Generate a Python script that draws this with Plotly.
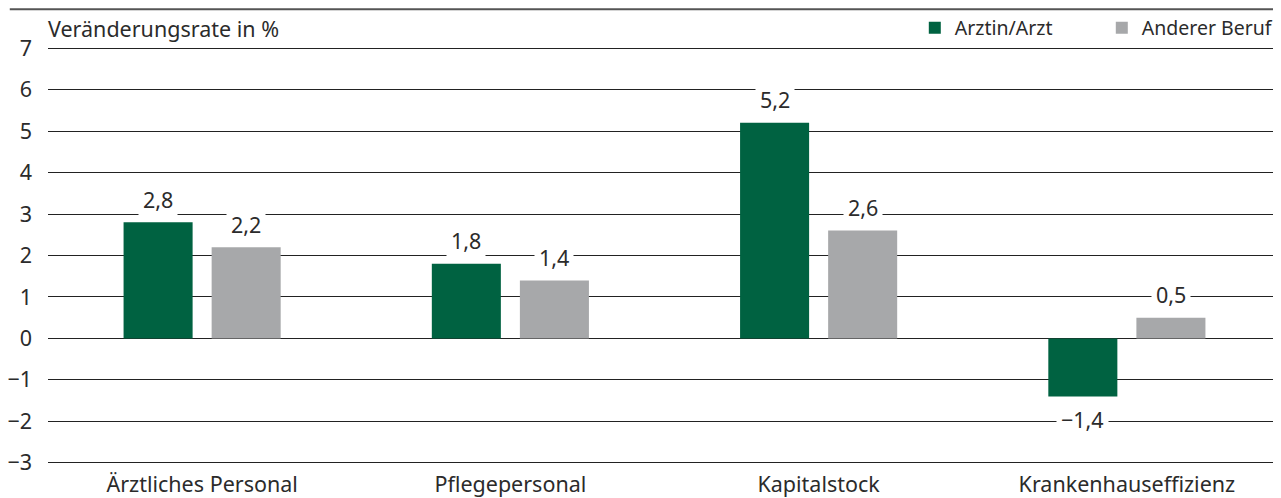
import plotly.graph_objects as go

categories = ["Ärztliches Personal", "Pflegepersonal", "Kapitalstock", "Krankenhauseffizienz"]
arzt = [2.8, 1.8, 5.2, -1.4]
andere = [2.2, 1.4, 2.6, 0.5]
series_names = ["Arztin/Arzt", "Anderer Beruf"]
y_ticks = [-3, -2, -1, 0, 1, 2, 3, 4, 5, 6, 7]
y_title = "Veränderungsrate in %"

GREEN = "#006241"
GRAY = "#A7A8AA"
TEXT = "#2b2b2b"
FONT = "Noto Sans"
FS = 21.5

fig = go.Figure()
fig.add_trace(go.Bar(x=categories, y=arzt, name=series_names[0], marker=dict(color=GREEN, line=dict(width=0))))
fig.add_trace(go.Bar(x=categories, y=andere, name=series_names[1], marker=dict(color=GRAY, line=dict(width=0))))

def fmt(v):
    s = f"{abs(v):.1f}".replace(".", ",")
    return ("\u2212" + s) if v < 0 else s

annotations = []
for vals, shift in ((arzt, -44), (andere, 44)):
    for c, v in zip(categories, vals):
        annotations.append(dict(
            x=c, y=v, xref="x", yref="y", xshift=shift,
            yshift=23 if v >= 0 else -23,
            text=fmt(v), showarrow=False, bgcolor="white",
            borderpad=4, font=dict(size=FS, color=TEXT, family=FONT),
        ))
annotations.append(dict(
    x=0, y=7, xref="paper", yref="y", yshift=20, xshift=-2, xanchor="left", yanchor="middle",
    text=y_title, showarrow=False, font=dict(size=FS, color=TEXT, family=FONT),
))

fig.update_layout(
    width=1273, height=490,
    margin=dict(l=40, r=0, t=38, b=33, autoexpand=False),
    paper_bgcolor="white", plot_bgcolor="white",
    barmode="group", bargap=0.4286, bargroupgap=0.216,
    font=dict(family=FONT, size=FS, color=TEXT),
    showlegend=True,
    legend=dict(orientation="h", x=0.703, xanchor="left", y=1.043, yanchor="middle",
                font=dict(size=19.5, color=TEXT, family=FONT), itemwidth=30,
                entrywidth=142, entrywidthmode="pixels",
                traceorder="normal", bgcolor="rgba(0,0,0,0)"),
    annotations=annotations,
    shapes=[dict(type="line", xref="paper", yref="paper", x0=-0.031, x1=1, y0=1.088, y1=1.088,
                 line=dict(color="#555555", width=2))],
    separators=",.",
)
fig.update_yaxes(range=[-3.05, 7.05], tickvals=y_ticks, showgrid=True, gridcolor="#222222", gridwidth=1,
                 zeroline=True, zerolinecolor="#222222", zerolinewidth=1,
                 ticklabelstandoff=15, tickfont=dict(size=FS, color=TEXT), fixedrange=True)
fig.update_xaxes(showgrid=False, showline=False, ticks="", ticklabelstandoff=4,
                 tickfont=dict(size=FS, color=TEXT))

fig.write_html("out.html")
